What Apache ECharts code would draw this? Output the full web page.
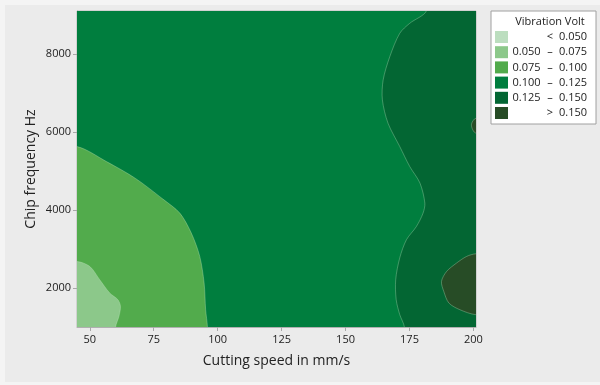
<!DOCTYPE html>
<html>
<head>
<meta charset="utf-8">
<script src="https://cdn.jsdelivr.net/npm/echarts@6/dist/echarts.min.js"></script>
<style>html,body{margin:0;padding:0;background:#f4f4f4;}#c{width:600px;height:385px;}</style>
</head>
<body>
<div id="c"></div>
<script>
// ---- data ----
var xRange = [45, 201];           // Cutting speed in mm/s
var yRange = [1000, 9100];        // Chip frequency Hz
var xTicks = [50, 75, 100, 125, 150, 175, 200];
var yTicks = [2000, 4000, 6000, 8000];
var legendLabels = ['< 0.050', '0.050 – 0.075', '0.075 – 0.100', '0.100 – 0.125', '0.125 – 0.150', '> 0.150'];

// contour boundaries [speed, frequency]
var edge075 = [[45,5625],[56.5,5241],[67.7,4816],[78.6,4278],[85.2,3919],[89.7,3407],[93.0,2808],[94.7,2127],[95.3,1443],[96.0,1000]];
var edge050 = [[45,2680],[50.0,2552],[53.9,2211],[57.8,1871],[61.0,1699],[62.0,1528],[61.4,1271],[60.1,1000]];
var edge125 = [[181.6,9100],[175.1,8785],[171.2,8529],[167.3,7930],[164.7,7333],[164.4,6821],[166.6,6224],[171.2,5625],[175.1,5113],[179.1,4688],[181.0,4175],[180.3,3919],[177.7,3576],[173.8,3236],[171.2,2775],[169.6,2211],[169.8,1699],[171.2,1315],[173.0,1000]];
var edge150a = [[201,2877],[197.3,2808],[193.4,2639],[189.5,2424],[187.5,2168],[188.4,1912],[190.4,1615],[194.7,1443],[201,1315]];
var edge150b = [[201,6352],[199.2,6181],[201,5968]];

var colors = ['#bcdebf', '#8cc88a', '#52ab4c', '#007e3e', '#036633', '#274c26'];
var FONT = '"Open Sans", "Noto Sans", sans-serif';

var x0 = xRange[0], x1 = xRange[1], y0 = yRange[0], y1 = yRange[1];
function first(a) { return a[0]; }
function last(a) { return a[a.length - 1]; }
// closing paths run outside the plot area (clipped away)
var OUTL = x0 - 15, OUTR = x1 + 15, OUTB = y0 - 600, OUTT = y1 + 600;
var regions = [
  {name: legendLabels[0], color: colors[0], edge: [], close: [], smooth: 0},
  {name: legendLabels[3], color: colors[3], edge: [], close: [[x0,y0],[x1,y0],[x1,y1],[x0,y1]], smooth: 0},
  {name: legendLabels[2], color: colors[2], edge: edge075,
    close: [[last(edge075)[0], OUTB], [OUTL, OUTB], [OUTL, first(edge075)[1]]], smooth: 0.3},
  {name: legendLabels[1], color: colors[1], edge: edge050,
    close: [[last(edge050)[0], OUTB], [OUTL, OUTB], [OUTL, first(edge050)[1]]], smooth: 0.3},
  {name: legendLabels[4], color: colors[4], edge: edge125,
    close: [[last(edge125)[0], OUTB], [OUTR, OUTB], [OUTR, OUTT], [first(edge125)[0], OUTT]], smooth: 0.3},
  {name: legendLabels[5], color: colors[5], edge: edge150a,
    close: [[OUTR, last(edge150a)[1]], [OUTR, first(edge150a)[1]]], smooth: 0.3},
  {name: legendLabels[5], color: colors[5], edge: edge150b,
    close: [[OUTR, last(edge150b)[1]], [OUTR, first(edge150b)[1]]], smooth: 0.3}
];

var series = regions.map(function (r, i) {
  var poly = r.edge.concat(r.close);
  return {
    type: 'custom',
    name: r.name,
    coordinateSystem: 'cartesian2d',
    silent: true,
    clip: true,
    z: 2 + i,
    itemStyle: {color: r.color},
    data: poly,
    renderItem: function (params, api) {
      if (params.dataIndex !== 0) return;
      var pts = poly.map(function (p) { return api.coord(p); });
      return {
        type: 'polygon',
        shape: {points: pts, smooth: r.smooth},
        style: r.edge.length
          ? {fill: r.color, stroke: 'rgba(200,235,200,0.4)', lineWidth: 0.8}
          : {fill: r.color}
      };
    }
  };
});

var legendData = legendLabels.map(function (l, i) { return {name: l, itemStyle: {color: colors[i]}}; });

var chart = echarts.init(document.getElementById('c'), null, {renderer: 'canvas'});
chart.setOption({
  backgroundColor: '#f4f4f4',
  animation: false,
  textStyle: {fontFamily: FONT},
  graphic: [
    {type: 'rect', z: -10, shape: {x: 5, y: 5, width: 595, height: 377}, style: {fill: '#ebebeb'}},
    {type: 'text', z: 100, x: 550, y: 22, style: {text: 'Vibration Volt', font: '11px ' + FONT, fill: '#222', textAlign: 'center', textVerticalAlign: 'middle'}}
  ],
  grid: {left: 77, right: 124, top: 11, bottom: 58, show: true, borderColor: '#b8b8b8', borderWidth: 1, backgroundColor: 'transparent', outerBoundsMode: 'none'},
  xAxis: {
    type: 'value', min: x0, max: x1,
    name: 'Cutting speed in mm/s', nameLocation: 'middle', nameGap: 27, nameMoveOverlap: false,
    nameTextStyle: {fontSize: 14, color: '#222', fontFamily: FONT},
    axisLine: {show: true, lineStyle: {color: '#b0b0b0'}},
    axisTick: {show: true, length: 4, customValues: xTicks, lineStyle: {color: '#a8a8a8'}},
    axisLabel: {customValues: xTicks, margin: 7, fontSize: 11, color: '#222', fontFamily: FONT,
      formatter: function (v) { return String(v); }},
    splitLine: {show: false}
  },
  yAxis: {
    type: 'value', min: y0, max: y1,
    name: 'Chip frequency Hz', nameLocation: 'middle', nameGap: 39, nameMoveOverlap: false,
    nameTextStyle: {fontSize: 14, color: '#222', fontFamily: FONT},
    axisLine: {show: true, lineStyle: {color: '#b0b0b0'}},
    axisTick: {show: true, length: 4, customValues: yTicks, lineStyle: {color: '#a8a8a8'}},
    axisLabel: {customValues: yTicks, margin: 6, fontSize: 11, color: '#222', fontFamily: FONT,
      formatter: function (v) { return String(v); }},
    splitLine: {show: false}
  },
  legend: {
    data: legendData,
    orient: 'vertical', left: 491, top: 11,
    padding: [20, 9, 5, 4],
    itemWidth: 13, itemHeight: 12, itemGap: 3.2,
    icon: 'rect', selectedMode: false,
    backgroundColor: '#ffffff', borderColor: '#a0a0a0', borderWidth: 1, borderRadius: 0,
    formatter: function (name) {
      var lo = '', sym = '', hi = '';
      if (name.charAt(0) === '<' || name.charAt(0) === '>') { sym = name.charAt(0); hi = name.slice(2); }
      else { var p = name.split(' – '); lo = p[0]; sym = '–'; hi = p[1]; }
      return '{lo|' + lo + '}{sym|' + sym + '}{hi|' + hi + '}';
    },
    textStyle: {
      fontSize: 11, color: '#222', fontFamily: FONT, lineHeight: 12,
      rich: {
        lo: {width: 27, align: 'right', fontSize: 11, lineHeight: 12, fontFamily: FONT, color: '#222'},
        sym: {width: 20, align: 'center', fontSize: 11, lineHeight: 12, fontFamily: FONT, color: '#222'},
        hi: {width: 27, align: 'right', fontSize: 11, lineHeight: 12, fontFamily: FONT, color: '#222'}
      }
    }
  },
  series: series
});
</script>
</body>
</html>
